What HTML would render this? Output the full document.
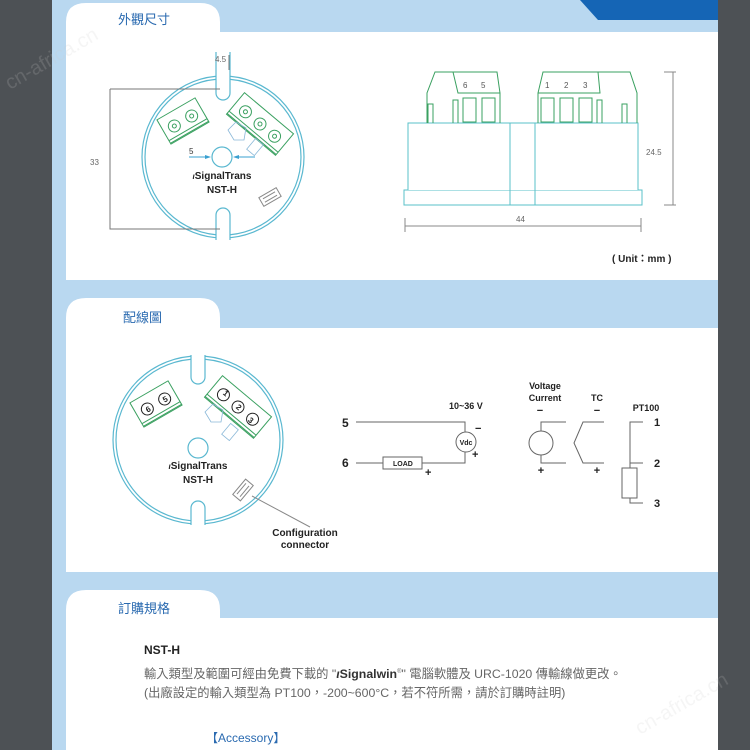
<!DOCTYPE html>
<html><head><meta charset="utf-8"><style>
html,body{margin:0;padding:0;width:750px;height:750px;overflow:hidden;background:#4d5155}
svg{display:block}
text{font-family:"Liberation Sans","Noto Sans CJK TC",sans-serif}
</style></head><body>
<svg width="750" height="750" viewBox="0 0 750 750" xmlns="http://www.w3.org/2000/svg">
<rect x="0" y="0" width="750" height="750" fill="#4d5155"/>
<rect x="52" y="0" width="666" height="750" fill="#b9d8f0"/>
<polygon points="580,0 718,0 718,20 598,20" fill="#1565b5"/>
<!-- panel 1 -->
<path d="M66,32 V22 Q66,3 86,3 H200 Q220,3 220,22 V32 H718 V280 H66 Z" fill="#fff"/>
<text x="118" y="24" font-size="13" fill="#2a6ab0">外觀尺寸</text>
<!-- panel 2 -->
<path d="M66,328 V318 Q66,298 86,298 H200 Q220,298 220,318 V328 H718 V572 H66 Z" fill="#fff"/>
<text x="123" y="322" font-size="13" fill="#2a6ab0">配線圖</text>
<!-- panel 3 -->
<path d="M66,618 V610 Q66,590 86,590 H200 Q220,590 220,610 V618 H718 V750 H66 Z" fill="#fff"/>
<text x="118" y="613" font-size="13" fill="#2a6ab0">訂購規格</text>

<g fill="none" stroke="#5ab8d0" stroke-width="1.2">
<circle cx="223" cy="157" r="81"/><circle cx="223" cy="157" r="78"/>
<circle cx="222" cy="157" r="10"/>
<ellipse cx="198" cy="440" rx="85" ry="84"/><ellipse cx="198" cy="440" rx="82" ry="81"/>
<circle cx="198" cy="448" r="10"/>
</g>
<g fill="#fff" stroke="#5ab8d0" stroke-width="1.2">
<path d="M216,52 V93 A7,7 0 0 0 230,93 V52"/>
<path d="M216,240 V215 A7,7 0 0 1 230,215 V240"/>
<path d="M191,355 V377 A7,7 0 0 0 205,377 V355"/>
<path d="M191,525 V508 A7,7 0 0 1 205,508 V525"/>
</g>
<g stroke="#777" stroke-width="1" fill="none">
<path d="M110,89 H220 M110,89 V229 H220"/>
<path d="M229,55 V70"/>
</g>
<text x="215" y="62" font-size="8" fill="#666">4.5</text>
<text x="90" y="165" font-size="8" fill="#666">33</text>
<text x="189" y="154" font-size="8" fill="#333">5</text>
<g stroke="#3aa0d0" stroke-width="1"><path d="M189,157 H208 M236,157 H255"/></g>
<polygon points="211,157 205,155 205,159" fill="#3aa0d0"/><polygon points="233,157 239,155 239,159" fill="#3aa0d0"/>
<text x="222" y="179" font-size="10" font-weight="bold" text-anchor="middle" fill="#222"><tspan font-style="italic" font-size="8">ι</tspan>SignalTrans</text>
<text x="222" y="193" font-size="10" font-weight="bold" text-anchor="middle" fill="#222">NST-H</text>
<g stroke="#3aa060" stroke-width="1" fill="#fff">
<g transform="translate(183,121) rotate(-30)">
<rect x="-22" y="-14" width="44" height="28"/><path d="M-22,10 H22 M-22,13 H22"/>
<circle cx="-10" cy="0" r="6"/><circle cx="-10" cy="0" r="2"/><circle cx="10" cy="0" r="6"/><circle cx="10" cy="0" r="2"/>
</g>
<g transform="translate(260,124) rotate(40)">
<rect x="-32" y="-14" width="64" height="28"/><path d="M-32,10 H32 M-32,13 H32"/>
<circle cx="-19" cy="0" r="6"/><circle cx="-19" cy="0" r="2"/><circle cx="0" cy="0" r="6"/><circle cx="0" cy="0" r="2"/><circle cx="19" cy="0" r="6"/><circle cx="19" cy="0" r="2"/>
</g>
</g>
<g stroke="#8ab8d8" stroke-width="0.8" fill="none"><path d="M228,130 L236,122 L246,128 L244,140 L234,140 Z"/><rect x="250" y="140" width="10" height="14" transform="rotate(40 255 147)"/></g>
<g transform="translate(270,197) rotate(-30)"><rect x="-10" y="-5" width="20" height="10" fill="#fff" stroke="#888"/><path d="M-7,-2 h14 M-7,2 h14" stroke="#888"/></g>
<g fill="#fff" stroke="#5ac0c8" stroke-width="1">
<rect x="404" y="190" width="238" height="15"/>
<path d="M408,190 V123 H638 V190"/>
<path d="M510,123 V205 M535,123 V205"/>
</g>
<g fill="none" stroke="#3aa060" stroke-width="1">
<path d="M427,123 V93 L435,72 H497 L500,93 V123"/>
<path d="M453,72 L458,93 H500"/>
<rect x="463" y="98" width="13" height="24"/><rect x="482" y="98" width="13" height="24"/>
<path d="M428,123 V104 H433 V123 M453,123 V100 H458 V123"/>
<path d="M538,123 V93 L543,72 H630 L637,93 V123"/>
<path d="M598,72 L600,93 H538"/>
<rect x="541" y="98" width="13" height="24"/><rect x="560" y="98" width="13" height="24"/><rect x="579" y="98" width="13" height="24"/>
<path d="M597,123 V100 H602 V123 M622,123 V104 H627 V123"/>
</g>
<text x="463" y="88" font-size="8" fill="#555">6</text><text x="481" y="88" font-size="8" fill="#555">5</text>
<text x="545" y="88" font-size="8" fill="#555">1</text><text x="564" y="88" font-size="8" fill="#555">2</text><text x="583" y="88" font-size="8" fill="#555">3</text>
<g stroke="#888" stroke-width="1" fill="none">
<path d="M673,72 V205 M664,72 H676 M664,205 H676"/>
<path d="M405,226 H641 M405,218 V232 M641,218 V232"/>
</g>
<text x="646" y="155" font-size="8" fill="#666">24.5</text>
<text x="516" y="222" font-size="8" fill="#666">44</text>
<text x="612" y="262" font-size="10" font-weight="bold" fill="#222">( Unit：mm )</text>
<g stroke="#3aa060" stroke-width="1" fill="#fff">
<g transform="translate(156,404) rotate(-30)">
<rect x="-22" y="-14" width="44" height="28"/><path d="M-22,10 H22 M-22,13 H22"/>
<circle cx="-10" cy="0" r="6" stroke="#222"/><circle cx="10" cy="0" r="6" stroke="#222"/>
</g>
<g transform="translate(238,407) rotate(40)">
<rect x="-32" y="-14" width="64" height="28"/><path d="M-32,10 H32 M-32,13 H32"/>
<circle cx="-19" cy="0" r="6" stroke="#222"/><circle cx="0" cy="0" r="6" stroke="#222"/><circle cx="19" cy="0" r="6" stroke="#222"/>
</g>
</g>
<g font-size="8" font-weight="bold" fill="#222" text-anchor="middle">
<text x="148" y="412" transform="rotate(-30 148 409)">6</text><text x="165" y="402" transform="rotate(-30 165 399)">5</text>
<text x="226" y="396" transform="rotate(40 226 393)">1</text><text x="239" y="410" transform="rotate(40 239 407)">2</text><text x="251" y="423" transform="rotate(40 251 420)">3</text>
</g>
<g stroke="#8ab8d8" stroke-width="0.8" fill="none"><path d="M205,412 L213,404 L223,410 L221,422 L211,422 Z"/><rect x="225" y="425" width="10" height="14" transform="rotate(40 230 432)"/></g>
<text x="198" y="469" font-size="10" font-weight="bold" text-anchor="middle" fill="#222"><tspan font-style="italic" font-size="8">ι</tspan>SignalTrans</text>
<text x="198" y="483" font-size="10" font-weight="bold" text-anchor="middle" fill="#222">NST-H</text>
<g transform="translate(243,490) rotate(-50)"><rect x="-10" y="-5" width="20" height="10" fill="#fff" stroke="#888"/><path d="M-7,-2 h14 M-7,2 h14" stroke="#888"/></g>
<path d="M252,496 L310,527" stroke="#888" fill="none"/>
<text x="305" y="536" font-size="10" font-weight="bold" text-anchor="middle" fill="#222">Configuration</text>
<text x="305" y="548" font-size="10" font-weight="bold" text-anchor="middle" fill="#222">connector</text>
<g stroke="#666" stroke-width="1" fill="none">
<path d="M356,422 H465 V432 M465,452 V463 H422 M383,463 H356"/>
<rect x="383" y="457" width="39" height="12"/>
<circle cx="466" cy="442" r="10"/>
<path d="M566,422 H541 V431 M541,455 V463 H566"/>
<circle cx="541" cy="443" r="12"/>
<path d="M604,422 H583 L574,443 L583,463 H604"/>
<path d="M643,422 H630 V468 M630,463 H643 M630,498 V503 H643"/>
<rect x="622" y="468" width="15" height="30"/>
</g>
<g font-weight="bold" fill="#222">
<text x="342" y="427" font-size="12">5</text><text x="342" y="467" font-size="12">6</text>
<text x="449" y="409" font-size="9">10~36 V</text>
<text x="466" y="445" font-size="7" text-anchor="middle">Vdc</text>
<text x="393" y="466" font-size="7">LOAD</text>
<text x="475" y="432" font-size="11">−</text><text x="472" y="458" font-size="11">+</text>
<text x="425" y="476" font-size="11">+</text>
<text x="545" y="389" font-size="9" text-anchor="middle">Voltage</text>
<text x="545" y="401" font-size="9" text-anchor="middle">Current</text>
<text x="540" y="414" font-size="11" text-anchor="middle">−</text><text x="541" y="474" font-size="11" text-anchor="middle">+</text>
<text x="597" y="401" font-size="9" text-anchor="middle">TC</text>
<text x="597" y="414" font-size="11" text-anchor="middle">−</text><text x="597" y="474" font-size="11" text-anchor="middle">+</text>
<text x="646" y="411" font-size="9" text-anchor="middle">PT100</text>
<text x="654" y="426" font-size="11">1</text><text x="654" y="467" font-size="11">2</text><text x="654" y="507" font-size="11">3</text>
</g>
<text x="144" y="654" font-size="12" font-weight="bold" fill="#222">NST-H</text>
<text x="144" y="678" font-size="12.3" fill="#666">輸入類型及範圍可經由免費下載的 "<tspan font-weight="bold" fill="#333" font-style="italic">ι</tspan><tspan font-weight="bold" fill="#333">Signalwin</tspan><tspan font-size="6" dy="-5">®</tspan><tspan dy="5">" 電腦軟體及 URC-1020 傳輸線做更改。</tspan></text>
<text x="144" y="697" font-size="12.3" fill="#666">(出廠設定的輸入類型為 PT100，-200~600°C，若不符所需，請於訂購時註明)</text>
<text x="206" y="742" font-size="12" fill="#2a6ab0">【Accessory】</text>
<text x="10" y="90" font-size="20" fill="#ccc" opacity="0.18" transform="rotate(-30 10 90)">cn-africa.cn</text>
<text x="640" y="735" font-size="20" fill="#ccc" opacity="0.18" transform="rotate(-30 640 735)">cn-africa.cn</text>
</svg>
</body></html>
